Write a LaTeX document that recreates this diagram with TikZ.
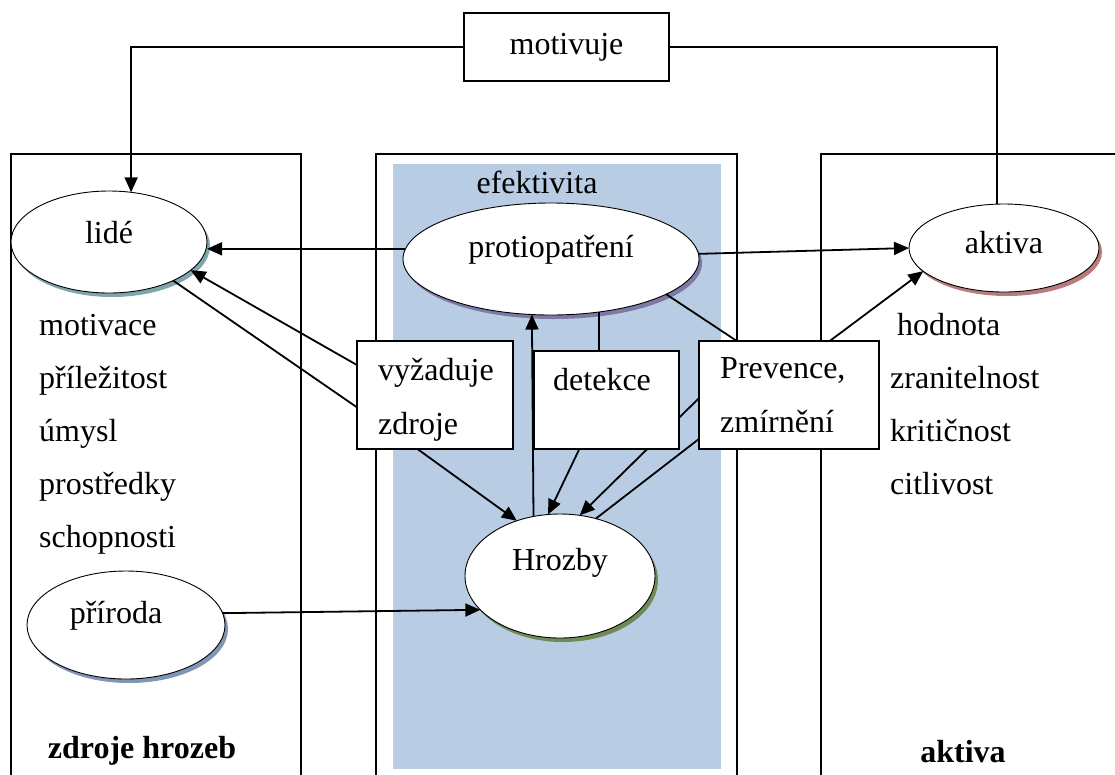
\documentclass[tikz,border=0pt]{standalone}
\usepackage{fontspec}
\setmainfont{Liberation Serif}
\usetikzlibrary{shapes.geometric,arrows.meta,shadows}
\definecolor{zoneblue}{HTML}{B8CCE4}
\definecolor{rimteal}{HTML}{7FA6AC}
\definecolor{rimviolet}{HTML}{7C7AA4}
\definecolor{rimred}{HTML}{B87C7C}
\definecolor{rimgreen}{HTML}{6F8A55}
\definecolor{rimblue}{HTML}{8096B4}
\tikzset{
  blob/.style={ellipse, draw, line width=0.9pt, fill=white, inner sep=0pt, outer sep=0pt,
    drop shadow={shadow xshift=3pt, shadow yshift=-4pt, fill=#1, opacity=1}},
  box/.style={rectangle, draw, line width=1.6pt, fill=white, inner sep=0pt, outer sep=0pt},
  txt/.style={inner sep=0pt, anchor=base, font=\fontsize{32}{38}\selectfont},
  lst/.style={inner sep=0pt, anchor=base west, font=\fontsize{32}{38}\selectfont},
  head/.style={inner sep=0pt, anchor=base, font=\fontsize{32}{38}\selectfont\bfseries},
  con/.style={line width=1.8pt},
  arr/.style={line width=1.8pt, -{Triangle[length=15pt,width=13pt]}},
  frame/.style={line width=1.6pt}
}

\begin{document}
\begin{tikzpicture}[x=1pt,y=-1pt]
\useasboundingbox (0,0) rectangle (1115,774);
% three zones
\draw[frame] (11,780) |- (301,154) -- (301,780);
\draw[frame] (376,780) |- (737,154) -- (737,780);
\draw[frame] (821,780) |- (1120,154);
\fill[zoneblue] (393,164) rectangle (721,769);
\node[txt] (eff) at (537,193) {efektivita};

% ellipses
\node[blob=rimteal, minimum width=196pt, minimum height=102pt] (lide) at (109,242) {};
\node[blob=rimviolet, minimum width=296pt, minimum height=112pt] (prot) at (551,259) {};
\node[blob=rimred, minimum width=190pt, minimum height=88pt] (aktiva) at (1004,248) {};
\node[blob=rimgreen, minimum width=190pt, minimum height=124pt] (hroz) at (560,576) {};
\node[blob=rimblue, minimum width=198pt, minimum height=108pt] (pri) at (126,625) {};
\node[txt] (lideT) at (109,243) {lidé};
\node[txt] (protT) at (551,257) {protiopatření};
\node[txt] (aktivaT) at (1004,253) {aktiva};
\node[txt] (hrozT) at (560,570) {Hrozby};
\node[txt] (priT) at (116,623) {příroda};

% lists
\foreach \w [count=\i] in {motivace,příležitost,úmysl,prostředky,schopnosti}
  \node[lst] (src\i) at (39,282+53.1*\i) {\w};
\foreach \w/\x [count=\i] in {hodnota/897,zranitelnost/890,kritičnost/890,citlivost/890}
  \node[lst] (val\i) at (\x,282+53.1*\i) {\w};
\node[head] (srcH) at (142,758) {zdroje hrozeb};
\node[head] (valH) at (963,762) {aktiva};

% boxes
\node[box, minimum width=205pt, minimum height=68pt, font=\fontsize{32}{38}\selectfont] (mot) at (566.5,47) {motivuje};
\node[box, minimum width=180pt, minimum height=108pt] (prev) at (789,395) {};
\draw[arr] (prev.182) -- (hroz.72);
\node[box, minimum width=145pt, minimum height=98pt] (det) at (606.5,400) {};
\node[box, minimum width=156pt, minimum height=108pt] (vyz) at (435,395) {};
\node[lst] (vyzA) at (378,380) {vyžaduje};
\node[lst] (vyzB) at (378,434) {zdroje};
\node[lst] (detT) at (553,390) {detekce};
\node[lst] (prevA) at (720,378) {Prevence,};
\node[lst] (prevB) at (720,432) {zmírnění};

% connectors
\draw[arr] (mot.west) -| (lide.66);
\draw[con] (mot.east) -| (aktiva.99);
\draw[arr] (prot.176) -- (prot.176 -| lide.east);
\draw[arr] (prot.2) -- (aktiva.west);
\draw[arr] (vyz.159) -- (lide.-19);
\draw[con] (vyz.189) -- (lide.-31);
\draw[arr] (vyz.-108) -- (hroz.128);
\draw[arr] (hroz.114) -- (prot.-109);
\draw[con] (prot.-48) -- (prot.-48 |- det.north);
\draw[arr] (det.-119) -- (hroz.101);
\draw[con] (prev.206) -- (hroz.58);
\draw[con] (prot.-17) -- (prev.134);
\draw[arr] (prev.53) -- (aktiva.196);
\draw[arr] (pri.7) -- (hroz.203);
\end{tikzpicture}
\end{document}
